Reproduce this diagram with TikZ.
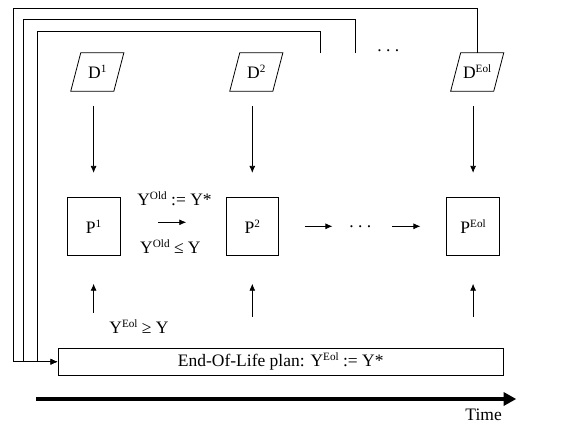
\documentclass[tikz,border=0pt]{standalone}
\usepackage{fontspec}
\setmainfont{Liberation Serif}
\usetikzlibrary{arrows.meta,calc}
\newcommand{\supx}[1]{\raisebox{6pt}{\fontsize{11.2}{12}\selectfont #1}}
\begin{document}
\begin{tikzpicture}[x=1pt,y=-1pt,
  every node/.style={font=\fontsize{17.5}{21}\selectfont, inner sep=0pt},
  thinline/.style={line width=0.8pt},
  arr/.style={line width=0.8pt,-{Latex[length=7pt,width=6pt]}},
  pbox/.style={draw, line width=0.8pt, minimum width=52.7pt, minimum height=58pt},
  dbox/.style={minimum width=42.7pt, minimum height=38pt}]
\useasboundingbox (0,0) rectangle (575,426);
% data nodes
\node[dbox] (D1) at (97.3,72) {D\supx{1}};
\node[dbox] (D2) at (256.3,72) {D\supx{2}};
\node[dbox] (D3) at (477.2,72) {D\supx{Eol}};
\foreach \n in {D1,D2,D3}
  \draw[thinline] ([xshift=-5pt]\n.south west) -- ([xshift=-5pt]\n.south east)
    -- ([xshift=5pt]\n.north east) -- ([xshift=5pt]\n.north west) -- cycle;
% plan boxes
\node[pbox] (P1) at (93.6,226.3) {P\supx{1}};
\node[pbox] (P2) at (252.3,226.3) {P\supx{2}};
\node[pbox] (P3) at (473.1,226.3) {P\supx{Eol}};
% end of life box
\node[draw, thinline, minimum width=445.7pt, minimum height=27.5pt] (EoL) at (280.75,361.75)
  {End-Of-Life plan: Y\supx{Eol} := Y*};
% dots
\node (tdots) at (388.2,51) {.\ .\ .};
\node (hdots) at (360.4,227) {.\ .\ .};
% labels
\node[anchor=base] (lab1) at (174.5,205) {Y\supx{Old} := Y*};
\node[anchor=base] (lab2) at (170.4,253.3) {Y\supx{Old} ≤ Y};
\node[anchor=base] (lab3) at (139,333.3) {Y\supx{Eol} ≥ Y};
% D -> P arrows
\foreach \d/\p in {D1/P1,D2/P2,D3/P3}
  \draw[arr] ($(\d.south -| \p.north)+(0pt,-15pt)$) -- ($(\p.north)+(0pt,24pt)$);
% EoL -> P arrows
\draw[arr] ($(EoL.north -| P1.south)+(0pt,35pt)$) -- ($(P1.south)+(0pt,-28pt)$);
\draw[arr] ($(EoL.north -| P2.south)+(0pt,31pt)$) -- ($(P2.south)+(0pt,-28pt)$);
\draw[arr] ($(EoL.north -| P3.south)+(0pt,31pt)$) -- ($(P3.south)+(0pt,-28pt)$);
% horizontal arrows
\draw[arr, shorten <=38pt, shorten >=39.3pt] ([yshift=4pt]P1.east) -- ([yshift=4pt]P2.west);
\draw[arr, shorten <=25.7pt, shorten >=16.8pt] (P2.east) -- (P2.east -| hdots.west);
\draw[arr, shorten <=20.5pt, shorten >=25.9pt] (P3.west -| hdots.east) -- (P3.west);
% feedback lines
\coordinate (m1) at (355,53);
\coordinate (m2) at (320.3,53);
\draw[arr] (D3.north) |- (13.5,8) |- (EoL.west);
\draw[arr] (m1) |- (23.7,19) |- (EoL.west);
\draw[arr] (m2) |- (37.8,31) |- (EoL.west);
% time axis
\coordinate (t0) at (36.4,399);
\coordinate (t1) at (516.3,399);
\draw[line width=3.5pt, -{Triangle[length=12.7pt,width=13pt]}] (t0) -- (t1);
\node[anchor=base] (time) at (483.6,420.7) {Time};
\end{tikzpicture}
\end{document}
